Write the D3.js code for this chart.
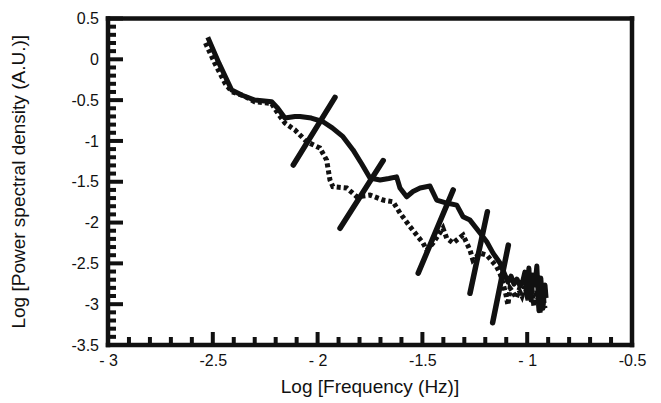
<!DOCTYPE html>
<html lang="en">
<head>
    <meta charset="UTF-8">
    <title>Power spectral density</title>
    <script src="https://d3js.org/d3.v7.min.js"></script>
    <style>
        body { margin: 0; background: #fff; font-family: "Liberation Sans", Arial, sans-serif; }
    </style>
</head>
<body>
    <div id="chart"></div>
    <script>
        // Solid curve (log frequency, log PSD)
        const solidLogF = [-2.524, -2.47, -2.41, -2.36, -2.30, -2.219, -2.19, -2.156, -2.108, -2.084, -2.03, -1.974,
            -1.93, -1.879, -1.831, -1.79, -1.75, -1.702, -1.66, -1.623, -1.607, -1.575, -1.545, -1.511, -1.464,
            -1.432, -1.384, -1.336, -1.306, -1.273, -1.225, -1.193, -1.163, -1.13, -1.116,
            -1.106, -1.092, -1.077, -1.063, -1.049, -1.034, -1.020, -1.011, -1.001, -0.992, -0.982, -0.973,
            -0.963, -0.954, -0.944, -0.935, -0.925, -0.915, -0.910];
        const solidLogP = [0.27, -0.05, -0.376, -0.44, -0.499, -0.52, -0.60, -0.72, -0.70, -0.70, -0.72, -0.765,
            -0.84, -0.948, -1.11, -1.28, -1.455, -1.479, -1.46, -1.44, -1.577, -1.684, -1.62, -1.577, -1.553,
            -1.724, -1.761, -1.786, -1.929, -1.97, -2.129, -2.235, -2.374, -2.496, -2.582,
            -2.643, -2.729, -2.656, -2.754, -2.692, -2.778, -2.705, -2.607, -2.901, -2.558, -2.950, -2.643,
            -2.766, -2.533, -3.08, -2.680, -3.05, -2.766, -2.925];

        // Dotted curve
        const dottedLogF = [-2.535, -2.49, -2.44, -2.408, -2.35, -2.30, -2.22, -2.19, -2.156, -2.108, -2.052, -1.989,
            -1.957, -1.941, -1.927, -1.861, -1.813, -1.75, -1.688, -1.64, -1.607, -1.559, -1.497, -1.479,
            -1.449, -1.402, -1.384, -1.354, -1.306, -1.273, -1.259, -1.225, -1.192, -1.146, -1.13,
            -1.116, -1.101, -1.092, -1.082, -1.068, -1.053, -1.039, -1.025, -1.011, -0.996, -0.982, -0.968,
            -0.954, -0.939, -0.925, -0.915];
        const dottedLogP = [0.20, -0.05, -0.30, -0.40, -0.45, -0.52, -0.54, -0.66, -0.78, -0.866, -1.01, -1.087,
            -1.234, -1.479, -1.561, -1.577, -1.684, -1.663, -1.724, -1.745, -1.883, -2.05, -2.25, -2.337,
            -2.25, -2.067, -2.19, -2.25, -2.153, -2.337, -2.459, -2.374, -2.40, -2.54, -2.62,
            -2.741, -2.888, -3.011, -2.803, -2.852, -2.925, -2.827, -2.901, -2.778, -2.950, -2.729, -3.023,
            -2.827, -3.10, -2.901, -3.05];

        // Straight fit segments: [x1, y1, x2, y2]
        const fitLines = [
            [-2.116, -1.295, -1.917, -0.466],
            [-1.893, -2.07, -1.687, -1.24],
            [-1.52, -2.62, -1.353, -1.60],
            [-1.273, -2.867, -1.19, -1.867],
            [-1.165, -3.228, -1.09, -2.276]
        ];

        const xMajor = [-3, -2.5, -2, -1.5, -1, -0.5];
        const yMajor = [0.5, 0, -0.5, -1, -1.5, -2, -2.5, -3, -3.5];

        const width = 661, height = 403;
        const margin = { left: 108, right: 29, top: 18.5, bottom: 58 };
        const font = "Liberation Sans, Arial, sans-serif";

        const x = d3.scaleLinear().domain([-3, -0.5]).range([margin.left, width - margin.right]);
        const y = d3.scaleLinear().domain([-3.5, 0.5]).range([height - margin.bottom, margin.top]);
        const x0 = x.range()[0], x1 = x.range()[1];
        const yb = y.range()[0], yt = y.range()[1];

        const svg = d3.select("#chart").append("svg")
            .attr("width", width)
            .attr("height", height);

        // minor ticks every 0.1, pointing inward
        const xMinor = d3.range(-29, -5).map(d => d / 10).filter(d => !xMajor.some(m => Math.abs(m - d) < 1e-6));
        const yMinor = d3.range(-34, 5).map(d => d / 10).filter(d => !yMajor.some(m => Math.abs(m - d) < 1e-6));

        const tickLine = d3.line();
        const xTicks = xMinor.map(v => [[x(v), yb], [x(v), yb - 8]])
            .concat(xMajor.map(v => [[x(v), yb], [x(v), yb - 13]]));
        const yTicks = yMinor.map(v => [[x0, y(v)], [x0 + 8, y(v)]])
            .concat(yMajor.map(v => [[x0, y(v)], [x0 + 15, y(v)]]));

        svg.append("g")
            .selectAll("path")
            .data(xTicks.concat(yTicks))
            .join("path")
            .attr("d", tickLine)
            .attr("fill", "none")
            .attr("stroke", "#111")
            .attr("stroke-width", 4);

        // frame as four filled bars
        const fw = 4.5;
        svg.append("g")
            .selectAll("rect")
            .data([
                [x0 - fw / 2, yt - fw / 2, x1 - x0 + fw, fw],
                [x0 - fw / 2, yb - fw / 2, x1 - x0 + fw, fw],
                [x0 - fw / 2, yt - fw / 2, fw, yb - yt + fw],
                [x1 - fw / 2, yt - fw / 2, fw, yb - yt + fw]
            ])
            .join("rect")
            .attr("x", d => d[0]).attr("y", d => d[1])
            .attr("width", d => d[2]).attr("height", d => d[3])
            .attr("fill", "#111");

        // tick labels
        svg.append("g")
            .attr("transform", `translate(0,${yb})`)
            .call(d3.axisBottom(x).tickValues(xMajor).tickSize(0).tickPadding(10)
                .tickFormat(d => Number.isInteger(d) ? "- " + Math.abs(d) : String(d)))
            .call(g => g.select(".domain").remove())
            .call(g => g.selectAll("text").style("font-size", "16px").style("font-family", font).style("fill", "#111"));

        svg.append("g")
            .attr("transform", `translate(${x0},0)`)
            .call(d3.axisLeft(y).tickValues(yMajor).tickSize(0).tickPadding(9)
                .tickFormat(d => String(d)))
            .call(g => g.select(".domain").remove())
            .call(g => g.selectAll("text").style("font-size", "16px").style("font-family", font).style("fill", "#111"));

        const line = d3.line().x(d => x(d[0])).y(d => y(d[1]));

        const dotted = dottedLogF.map((f, i) => [f, dottedLogP[i]]);
        const solid = solidLogF.map((f, i) => [f, solidLogP[i]]);

        svg.append("path")
            .datum(dotted)
            .attr("d", line)
            .attr("fill", "none")
            .attr("stroke", "#111")
            .attr("stroke-width", 5)
            .attr("stroke-dasharray", "4,3");

        svg.append("path")
            .datum(solid)
            .attr("d", line)
            .attr("fill", "none")
            .attr("stroke", "#111")
            .attr("stroke-width", 5)
            .attr("stroke-linejoin", "round");

        svg.append("g")
            .selectAll("line")
            .data(fitLines)
            .join("line")
            .attr("x1", d => x(d[0]))
            .attr("y1", d => y(d[1]))
            .attr("x2", d => x(d[2]))
            .attr("y2", d => y(d[3]))
            .attr("stroke", "#111")
            .attr("stroke-width", 5.5)
            .attr("stroke-linecap", "round");

        // axis titles
        svg.append("text")
            .attr("x", (x0 + x1) / 2)
            .attr("y", 393)
            .attr("text-anchor", "middle")
            .style("font-size", "19px")
            .style("font-family", font)
            .style("fill", "#111")
            .text("Log [Frequency (Hz)]");

        svg.append("text")
            .attr("transform", `translate(25,${(yb + yt) / 2}) rotate(-90)`)
            .attr("text-anchor", "middle")
            .style("font-size", "19px")
            .style("font-family", font)
            .style("fill", "#111")
            .text("Log [Power spectral density (A.U.)]");
    </script>
</body>
</html>
